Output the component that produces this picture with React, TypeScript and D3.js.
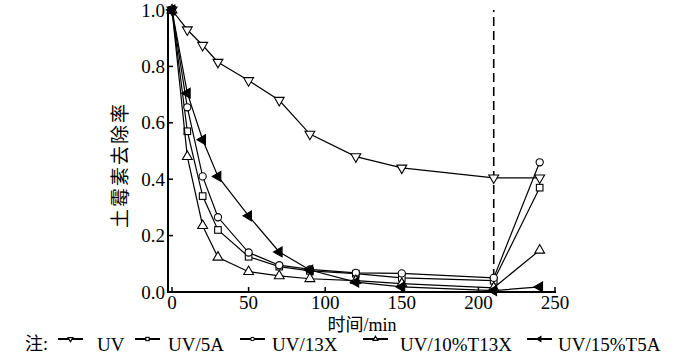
import React from "react";
import * as d3 from "d3";

const times = [0, 10, 20, 30, 50, 70, 90, 120, 150, 210, 240];
const uv = [1.0, 0.93, 0.875, 0.815, 0.75, 0.68, 0.56, 0.48, 0.44, 0.405, 0.405];
const uv5A = [1.0, 0.57, 0.34, 0.22, 0.125, 0.09, 0.075, 0.065, 0.05, 0.04, 0.37];
const uv13X = [1.0, 0.655, 0.41, 0.265, 0.14, 0.095, 0.08, 0.068, 0.066, 0.05, 0.46];
const uv10T13X = [1.0, 0.48, 0.235, 0.123, 0.072, 0.057, 0.047, 0.04, 0.03, 0.015, 0.148];
const uv15T5A = [1.0, 0.705, 0.54, 0.41, 0.27, 0.142, 0.078, 0.035, 0.018, 0.005, 0.018];

const seriesNames = ["UV", "UV/5A", "UV/13X", "UV/10%T13X", "UV/15%T5A"];
const seriesMarkers = ["down", "square", "circle", "up", "left"];
const xTicks = [0, 50, 100, 150, 200, 250];
const yTicks = [0, 0.2, 0.4, 0.6, 0.8, 1.0];
const dashedAt = 210;

const FONT = "'Liberation Serif', 'Times New Roman', serif";
const CJK = "'Noto Sans CJK SC', serif";

function Marker({ kind, x, y, s = 1 }: { kind: string; x: number; y: number; s?: number }) {
  const sw = 1.1;
  if (kind === "circle") return <circle cx={x} cy={y} r={3.6 * s} fill="white" stroke="black" strokeWidth={sw} />;
  if (kind === "square")
    return <rect x={x - 3.3 * s} y={y - 3.3 * s} width={6.6 * s} height={6.6 * s} fill="white" stroke="black" strokeWidth={sw} />;
  const tri = d3.symbol().type(d3.symbolTriangle).size(42 * s * s)() as string;
  const rot = kind === "up" ? 0 : kind === "down" ? 180 : -90;
  const fill = kind === "left" ? "black" : "white";
  return <path d={tri} transform={`translate(${x},${y}) rotate(${rot})`} fill={fill} stroke="black" strokeWidth={sw} />;
}

export default function App() {
  const x = d3.scaleLinear().domain([0, 250]).range([172, 555]);
  const y = d3.scaleLinear().domain([0, 1]).range([292, 10]);
  const data = [uv, uv5A, uv13X, uv10T13X, uv15T5A];
  const line = d3
    .line<number>()
    .x((_, i) => x(times[i]))
    .y((d) => y(d));

  const legendX = [58, 135, 240, 363, 527];
  const legendTextX = [97, 168, 272, 400, 558];
  const legY = 339;

  return (
    <svg width={700} height={357} style={{ position: "absolute", left: 0, top: 0, background: "white" }}>
      <line x1={x(dashedAt)} x2={x(dashedAt)} y1={y(0)} y2={y(1)} stroke="black" strokeWidth={1.6} strokeDasharray="9,5" />
      <line x1={168} x2={x(250) + 1} y1={y(0)} y2={y(0)} stroke="black" strokeWidth={2} />
      <line x1={168} x2={168} y1={y(0) + 1} y2={y(1)} stroke="black" strokeWidth={2} />
      {xTicks.map((t) => (
        <g key={"xt" + t}>
          <line x1={x(t)} x2={x(t)} y1={y(0)} y2={y(0) - 5} stroke="black" strokeWidth={1.5} />
          <text x={x(t)} y={309} textAnchor="middle" fontFamily={FONT} fontSize={19}>
            {t}
          </text>
        </g>
      ))}
      {yTicks.map((v) => (
        <g key={"yt" + v}>
          <line x1={168} x2={173} y1={y(v)} y2={y(v)} stroke="black" strokeWidth={1.5} />
          <text x={165} y={y(v)} dy="0.35em" textAnchor="end" fontFamily={FONT} fontSize={19}>
            {v.toFixed(1)}
          </text>
        </g>
      ))}
      <text
        transform={`translate(127,165) rotate(-90)`}
        textAnchor="middle"
        fontFamily={CJK}
        fontSize={19}
        letterSpacing={2}
        fill="black"
      >
        土霉素去除率
      </text>
      <text x={362} y={331} textAnchor="middle" fontSize={18} fill="black">
        <tspan fontFamily={CJK}>时间</tspan>
        <tspan fontFamily={FONT}>/min</tspan>
      </text>
      {data.map((s, si) => (
        <g key={"s" + si}>
          <path d={line(s) as string} fill="none" stroke="black" strokeWidth={1.2} />
          {s.map((v, i) => (
            <Marker key={i} kind={seriesMarkers[si]} x={x(times[i])} y={y(v)} />
          ))}
        </g>
      ))}
      <text x={25} y={350} fontSize={18} fill="black">
        <tspan fontFamily={CJK}>注</tspan>
        <tspan fontFamily={FONT}>:</tspan>
      </text>
      {seriesNames.map((n, i) => (
        <g key={"lg" + i}>
          <line x1={legendX[i]} x2={legendX[i] + 25} y1={legY} y2={legY} stroke="black" strokeWidth={2} />
          <Marker kind={seriesMarkers[i]} x={legendX[i] + 12.5} y={legY} s={0.5} />
          <text x={legendTextX[i]} y={351} fontFamily={FONT} fontSize={19}>
            {n}
          </text>
        </g>
      ))}
    </svg>
  );
}
